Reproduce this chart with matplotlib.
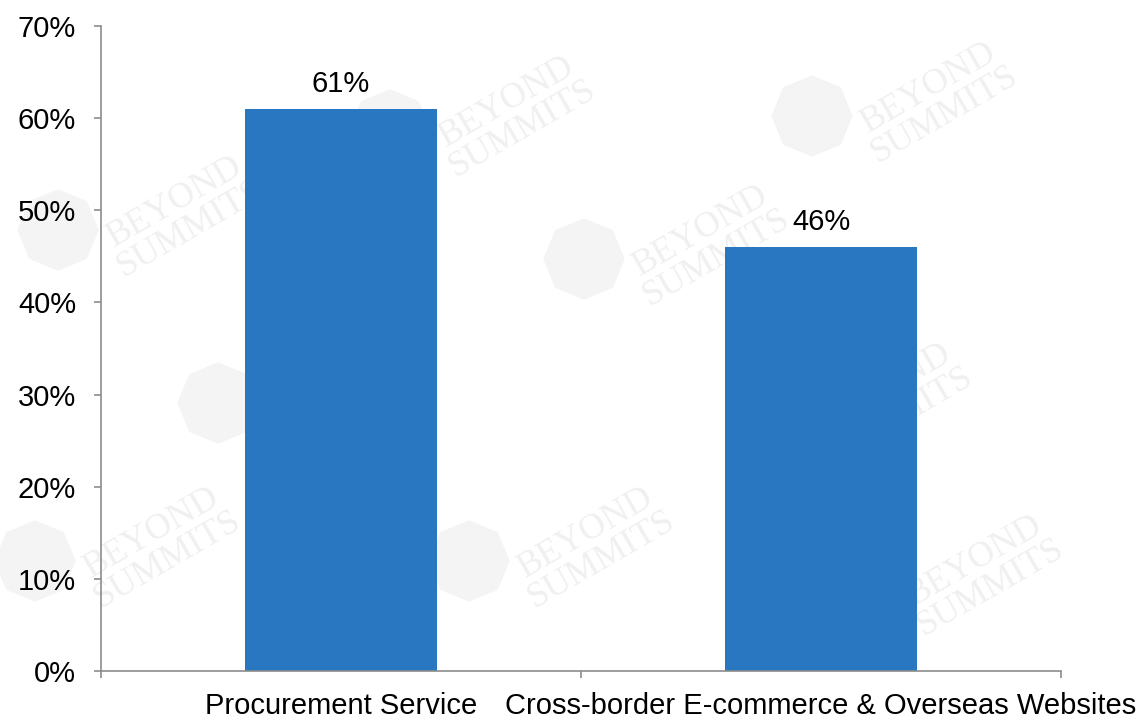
import matplotlib.pyplot as plt
from matplotlib.patches import RegularPolygon
from matplotlib.ticker import FixedLocator, PercentFormatter

categories = ["Procurement Service", "Cross-border E-commerce & Overseas Websites"]
shares = [61, 46]
y_ticks = [0, 10, 20, 30, 40, 50, 60, 70]

plt.rcParams["font.family"] = ["Liberation Sans", "DejaVu Sans"]

fig = plt.figure(figsize=(11.43, 7.18), dpi=100)
fig.patch.set_facecolor("white")

# faint brand watermark on a background layer behind the plot (pixel coords)
bg = fig.add_axes([0, 0, 1, 1], zorder=-10)
bg.set_axis_off()
bg.set_xlim(0, 1143)
bg.set_ylim(0, 718)
wm_spots = [(515, 603), (937, 617), (183, 503), (709, 474),
            (343, 330), (892, 316), (160, 172), (594, 172), (983, 144)]
for px, py in wm_spots:
    bg.text(px, py, "BEYOND\nSUMMITS", color="#f0f0f0", fontsize=26,
            rotation=30, ha="center", va="center", linespacing=0.9,
            family="Liberation Serif")
    bg.add_patch(RegularPolygon((px - 125, py - 15), 8, radius=40,
                                color="#f4f4f4"))

ax = fig.add_axes([0.0884, 0.0655, 0.8399, 0.8983])
ax.set_facecolor("none")

x = range(len(categories))
bars = ax.bar(x, shares, width=0.4, color="#2977C0", zorder=2)
for rect, v in zip(bars, shares):
    ax.annotate(f"{v}%", (rect.get_x() + rect.get_width() / 2, v),
                xytext=(0, 8), textcoords="offset points",
                ha="center", va="bottom", fontsize=21)

ax.set_xlim(-0.5, len(categories) - 0.5)
ax.set_ylim(0, 70)
ax.set_yticks(y_ticks)
ax.yaxis.set_major_formatter(PercentFormatter(decimals=0))

# tick marks sit on category boundaries, labels in the middle
ax.xaxis.set_major_locator(FixedLocator([-0.5, 0.5, 1.5]))
ax.set_xticklabels([])
ax.xaxis.set_minor_locator(FixedLocator(list(x)))
ax.set_xticklabels(categories, minor=True)

axis_color = "#8c8c8c"
for side in ("top", "right"):
    ax.spines[side].set_visible(False)
for side in ("left", "bottom"):
    ax.spines[side].set_color(axis_color)
    ax.spines[side].set_linewidth(1.2)

ax.tick_params(axis="y", which="major", length=5, width=1.2, color=axis_color,
               labelsize=21, pad=13)
ax.tick_params(axis="x", which="major", length=5, width=1.2, color=axis_color)
ax.tick_params(axis="x", which="minor", length=0, labelsize=21, pad=15)

fig.savefig("out.png", dpi=100, facecolor="white")
